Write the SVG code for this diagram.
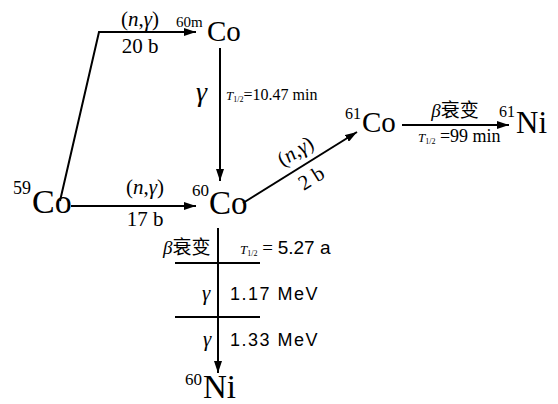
<svg xmlns="http://www.w3.org/2000/svg" width="558" height="404" viewBox="0 0 558 404">
<style>
.s{font-family:"Liberation Serif","Times New Roman",serif;fill:#000}
.a{font-family:"Liberation Sans",Arial,sans-serif;fill:#000}
.cjk{font-family:"Noto Sans CJK SC","Liberation Serif",serif}
.i{font-style:italic}
.ln{stroke:#000;stroke-width:2;fill:none}
</style>
<defs>
<marker id="ah" viewBox="0 0 12 8" refX="12" refY="4" markerWidth="12" markerHeight="8" markerUnits="userSpaceOnUse" orient="auto">
<path d="M0,0 L12,4 L0,8 Z" fill="#000"/>
</marker>
</defs>
<rect width="558" height="404" fill="#fff"/>
<g id="connectors">
<polyline class="ln" points="60,201 99,32 196,32" marker-end="url(#ah)"/>
<line class="ln" x1="220" y1="48" x2="220" y2="181" marker-end="url(#ah)"/>
<line class="ln" x1="71" y1="206" x2="196" y2="206" marker-end="url(#ah)"/>
<line class="ln" x1="243" y1="203" x2="357" y2="132" marker-end="url(#ah)"/>
<line class="ln" x1="402" y1="125" x2="509" y2="125" marker-end="url(#ah)"/>
<line class="ln" x1="218" y1="228" x2="218" y2="373" marker-end="url(#ah)"/>
<line class="ln" x1="175" y1="263" x2="260" y2="263"/>
<line class="ln" x1="175" y1="317" x2="260" y2="317"/>
</g>
<g id="co59"><text class="s" x="13" y="194" font-size="18">59</text><text class="s" x="32" y="213" font-size="34">Co</text></g>
<g id="co60m"><text class="s" x="176" y="27" font-size="15">60m</text><text class="s" x="207" y="41" font-size="29">Co</text></g>
<g id="co60"><text class="s" x="192" y="196" font-size="17">60</text><text class="s" x="209" y="214" font-size="33">Co</text></g>
<g id="co61"><text class="s" x="345" y="119" font-size="16">61</text><text class="s" x="362" y="132" font-size="29">Co</text></g>
<g id="ni61"><text class="s" x="499" y="117" font-size="16">61</text><text class="s" x="516" y="133" font-size="31">Ni</text></g>
<g id="ni60"><text class="s" x="185" y="385" font-size="17">60</text><text class="s" x="203" y="398" font-size="33">Ni</text></g>
<g id="labels">
<text class="s" x="140" y="26" font-size="21" text-anchor="middle">(<tspan class="i">n</tspan>,<tspan class="i">γ</tspan>)</text>
<text class="s" x="140" y="53" font-size="21" text-anchor="middle">20 b</text>
<text class="s i" x="196" y="101" font-size="28">γ</text>
<text class="s" x="226" y="100"><tspan class="i" font-size="13">T</tspan><tspan font-size="8" dy="2">1/2</tspan><tspan font-size="16" dy="-2">=10.47 min</tspan></text>
<text class="s" x="145" y="194" font-size="21" text-anchor="middle">(<tspan class="i">n</tspan>,<tspan class="i">γ</tspan>)</text>
<text class="s" x="145" y="226" font-size="21" text-anchor="middle">17 b</text>
<text class="s" transform="translate(299,157) rotate(-32)" font-size="21" text-anchor="middle">(<tspan class="i">n</tspan>,<tspan class="i">γ</tspan>)</text>
<text class="s" transform="translate(315,184) rotate(-32)" font-size="21" text-anchor="middle">2 b</text>
<text x="455" y="117" font-size="19" text-anchor="middle"><tspan class="s i">β</tspan><tspan class="cjk">衰变</tspan></text>
<text class="s" x="418" y="142"><tspan class="i" font-size="13">T</tspan><tspan font-size="8" dy="2">1/2</tspan><tspan font-size="18" dy="-2"> =99 min</tspan></text>
<text x="163" y="254" font-size="19"><tspan class="s i">β</tspan><tspan class="cjk">衰变</tspan></text>
<text class="s" x="240" y="254"><tspan class="i" font-size="13">T</tspan><tspan font-size="8" dy="2">1/2</tspan><tspan font-size="19" dy="-2"> = </tspan><tspan class="a" font-size="19">5.27 a</tspan></text>
<text class="s i" x="202" y="300" font-size="21">γ</text>
<text class="a" x="230" y="300" font-size="18" letter-spacing="1.5">1.17 MeV</text>
<text class="s i" x="203" y="346" font-size="21">γ</text>
<text class="a" x="230" y="346" font-size="18" letter-spacing="1.5">1.33 MeV</text>
</g>
</svg>
